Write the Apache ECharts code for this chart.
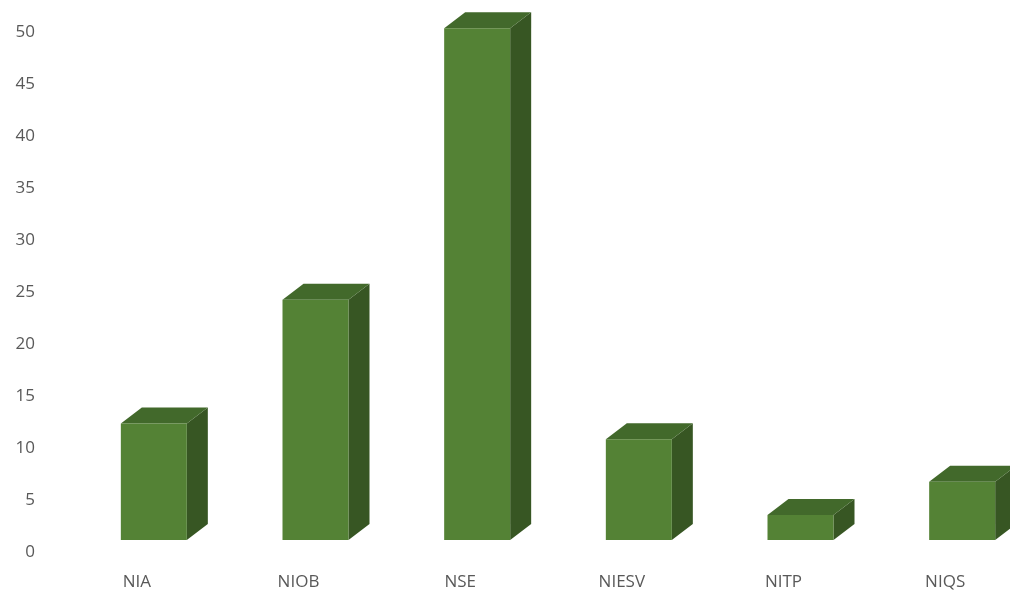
<!DOCTYPE html>
<html>
<head>
<meta charset="utf-8">
<script src="https://cdn.jsdelivr.net/npm/echarts@6/dist/echarts.min.js"></script>
<style>html,body{margin:0;padding:0;background:#fff;overflow:hidden;width:1010px;height:592px}#c{width:1026px;height:592px}</style>
</head>
<body>
<div id="c"></div>
<script>
const categories = ['NIA', 'NIOB', 'NSE', 'NIESV', 'NITP', 'NIQS'];
const values = [12.4, 24.3, 50.4, 10.9, 3.6, 6.8];
const yTicks = [0, 5, 10, 15, 20, 25, 30, 35, 40, 45, 50];

const chart = echarts.init(document.getElementById('c'), null, {renderer: 'canvas'});
const FRONT = '#548235', TOP = '#42692b', SIDE = '#375623';
const option = {
  animation: false,
  grid: {left: 56, right: 0, top: 32.5, bottom: 39.5},
  xAxis: {
    type: 'category', data: categories,
    axisLine: {show: false}, axisTick: {show: false}, splitLine: {show: false},
    axisLabel: {color: '#595959', fontFamily: 'Open Sans', fontSize: 17, margin: 21}
  },
  yAxis: {
    type: 'value', min: yTicks[0], max: yTicks[yTicks.length - 1], interval: 5,
    axisLine: {show: false}, axisTick: {show: false}, splitLine: {show: false},
    axisLabel: {color: '#595959', fontFamily: 'Open Sans', fontSize: 17, margin: 21}
  },
  series: [{
    type: 'custom',
    clip: false,
    data: values.map((v, i) => [i, v]),
    renderItem: function (params, api) {
      const c0 = api.coord([api.value(0), 0]);
      const c1 = api.coord([api.value(0), api.value(1)]);
      const cx = c0[0] + 17;
      const w = 66, dx = 21, dy = 16;
      const l = cx - w / 2, r = cx + w / 2;
      const yT = c1[1], yB = c0[1] - 12.5;
      return {
        type: 'group',
        children: [
          {type: 'polygon', shape: {points: [[r, yT], [r + dx, yT - dy], [r + dx, yB - dy], [r, yB]]}, style: {fill: SIDE}},
          {type: 'polygon', shape: {points: [[l, yT], [l + dx, yT - dy], [r + dx, yT - dy], [r, yT]]}, style: {fill: TOP}},
          {type: 'rect', shape: {x: l, y: yT, width: w, height: yB - yT}, style: {fill: FRONT}}
        ]
      };
    }
  }]
};
chart.setOption(option);
</script>
</body>
</html>
